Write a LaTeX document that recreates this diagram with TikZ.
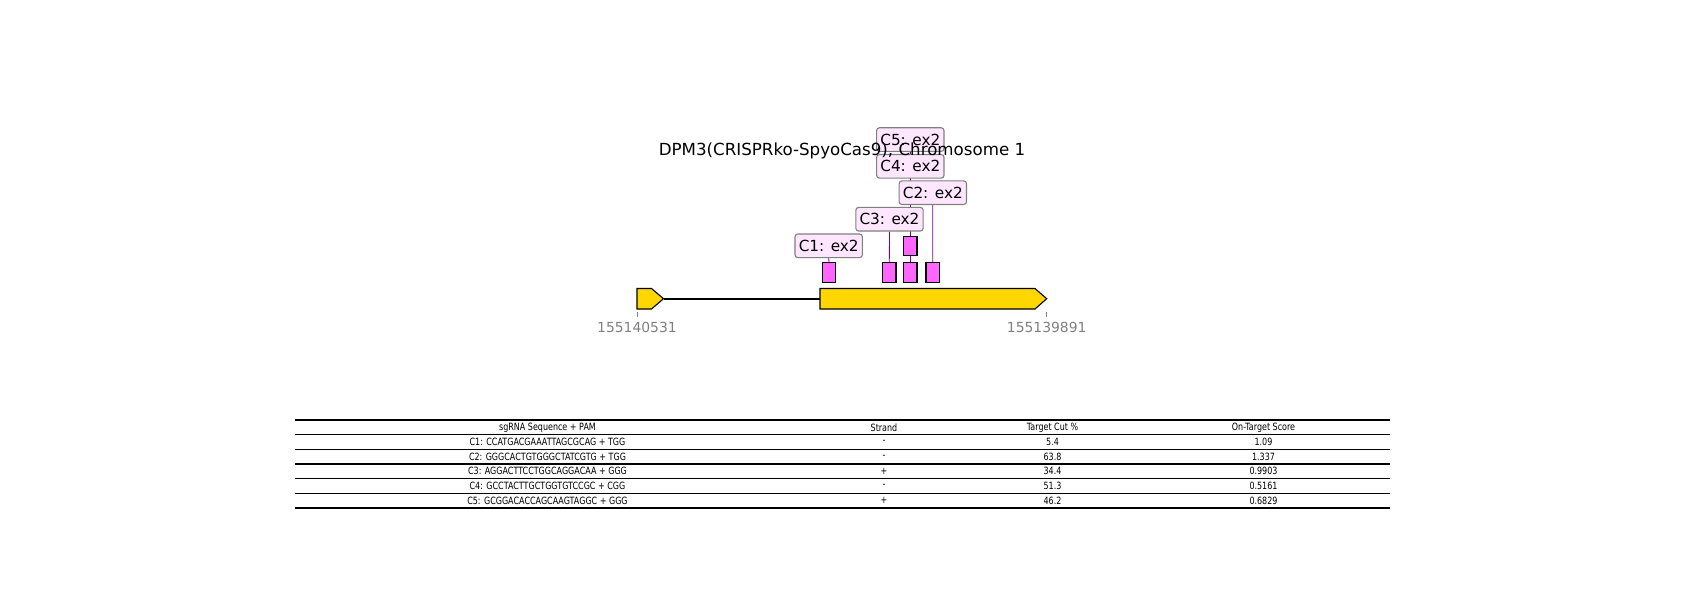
\documentclass[tikz,border=0pt]{standalone}
\usepackage{fontspec}
\setmainfont{DejaVu Sans}
\newfontfamily\tablefont{DejaVu Sans}[FakeStretch=0.8]
\usetikzlibrary{backgrounds}
\definecolor{exongold}{HTML}{FFD700}
\definecolor{guidepink}{HTML}{FF66FF}
\definecolor{labelpink}{HTML}{FFE6FF}
\definecolor{linkpurple}{HTML}{800080}
\definecolor{tickgray}{HTML}{808080}
\tikzset{
  exon/.style={draw=black, fill=exongold, line width=0.8pt, line join=miter},
  guide/.style={draw=black, fill=guidepink, line width=1pt,
    minimum width=9.6pt, minimum height=14.1pt, inner sep=0pt},
  guidelabel/.style={draw=gray, fill=labelpink, rounded corners=2pt, line width=0.8pt,
    minimum width=48.5pt, minimum height=17pt, inner sep=0pt,
    font=\fontsize{11}{13}\selectfont},
  link/.style={linkpurple, line width=0.6pt},
  coordlabel/.style={tickgray, font=\fontsize{10}{12}\selectfont, inner sep=0pt},
  cell/.style={font=\tablefont\fontsize{7.2}{8.5}\selectfont, inner sep=0pt},
  rowline/.style={black, line width=0.9pt}
}

\begin{document}
\begin{tikzpicture}[x=0.72pt, y=-0.72pt]
  \useasboundingbox (0,0) rectangle (1700,600);

  % Gene model: two exons joined by the intron
  \draw[exon] (637,288.5) -- (651.5,288.5) -- (663.5,298.7) -- (651.5,309) -- (637,309) -- cycle;
  \draw[black, line width=1.5pt] (663.5,298.7) -- (820,298.7);
  \draw[exon] (820,288.5) -- (1035,288.5) -- (1046.7,298.7) -- (1035,309) -- (820,309) -- cycle;

  % Genomic coordinates
  \draw[tickgray, line width=0.5pt] (637,312) -- (637,317);
  \draw[tickgray, line width=0.5pt] (1046.7,312) -- (1046.7,317);
  \node[coordlabel] (posstart) at (637,327) {155140531};
  \node[coordlabel] (posend) at (1046.7,327) {155139891};

  % Guide sites
  \node[guide] (g1) at (829,272.5) {};
  \node[guide] (g3) at (889.3,272.5) {};
  \node[guide] (g4) at (910.3,272.5) {};
  \node[guide] (g2) at (932.7,272.5) {};
  \node[guide] (g5) at (910.3,246) {};

  % Guide labels
  \node[guidelabel] (l1) at (828.7,245.8) {C1: ex2};
  \node[guidelabel] (l3) at (889.5,219.2) {C3: ex2};
  \node[guidelabel] (l2) at (932.8,192.7) {C2: ex2};
  \node[guidelabel] (l5) at (910.3,139.6) {C5: ex2};
  \node[guidelabel] (l4) at (910.3,166.3) {C4: ex2};

  \begin{scope}[on background layer]
    \draw[link] (l1.south) -- (g1.north);
    \draw[link] (l3.south) -- (g3.north);
    \draw[link] (l2.south) -- (g2.north);
    \draw[link] (l4.south) -- (g4.north);
    \draw[link] (l5.south) -- (g5.north);
  \end{scope}

  \node[anchor=base, font=\fontsize{12}{14}\selectfont, inner sep=0pt] (title) at (842,155)
    {DPM3(CRISPRko-SpyoCas9), Chromosome 1};

  % Guide table
  \foreach \k in {0,...,6}
    \draw[rowline] (295,{420+14.67*\k}) -- (1390,{420+14.67*\k});
  \foreach \seq/\strand/\cut/\score [count=\r from 0] in {
      sgRNA Sequence + PAM/Strand/Target Cut \%/On-Target Score,
      C1: CCATGACGAAATTAGCGCAG + TGG/-/5.4/1.09,
      C2: GGGCACTGTGGGCTATCGTG + TGG/-/63.8/1.337,
      C3: AGGACTTCCTGGCAGGACAA + GGG/+/34.4/0.9903,
      C4: GCCTACTTGCTGGTGTCCGC + CGG/-/51.3/0.5161,
      C5: GCGGACACCAGCAAGTAGGC + GGG/+/46.2/0.6829} {
    \node[cell] (seq\r) at (547.5,{420+14.67*(\r+0.5)}) {\seq};
    \node[cell] (strand\r) at (884,{420+14.67*(\r+0.5)}) {\strand};
    \node[cell] (cut\r) at (1052.5,{420+14.67*(\r+0.5)}) {\cut};
    \node[cell] (score\r) at (1263.5,{420+14.67*(\r+0.5)}) {\score};
  }
\end{tikzpicture}
\end{document}
